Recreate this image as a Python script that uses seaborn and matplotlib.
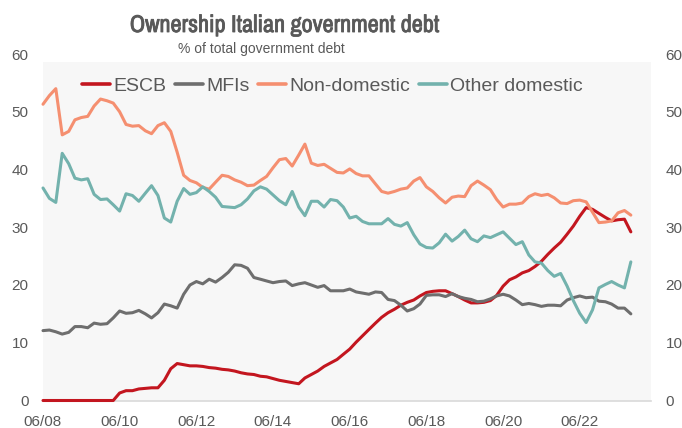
import numpy as np
import pandas as pd
import matplotlib
matplotlib.use("Agg")
import matplotlib.pyplot as plt
import matplotlib.dates as mdates
import matplotlib.patheffects as pe
import seaborn as sns

# Bi-monthly observations, June 2008 - October 2023 (% of total government debt)
dates = pd.date_range("2008-06-01", periods=93, freq="2MS")
holders = ["ESCB", "MFIs", "Non-domestic", "Other domestic"]

escb = [0, 0, 0, 0, 0, 0, 0, 0, 0, 0,
        0, 0, 1.3, 1.7, 1.7, 2.0, 2.1, 2.2, 2.2, 3.5,
        5.5, 6.4, 6.2, 6.0, 6.0, 5.9, 5.7, 5.6, 5.4, 5.3,
        5.1, 4.8, 4.6, 4.5, 4.2, 4.1, 3.8, 3.5, 3.3, 3.1,
        2.9, 3.9, 4.5, 5.1, 5.9, 6.5, 7.1, 8.0, 8.9, 10.1,
        11.2, 12.3, 13.4, 14.4, 15.2, 15.8, 16.5, 17.0, 17.4, 18.1,
        18.7, 18.9, 19.0, 19.0, 18.5, 18.0, 17.4, 16.9, 16.9, 17.0,
        17.3, 18.2, 19.8, 20.9, 21.4, 22.1, 22.5, 23.2, 24.1, 25.3,
        26.4, 27.4, 28.8, 30.2, 31.9, 33.4, 33.1, 32.4, 31.7, 31.1,
        31.3, 31.4, 29.2]

mfis = [12.1, 12.2, 11.9, 11.5, 11.8, 12.8, 12.8, 12.6, 13.4, 13.2,
        13.3, 14.3, 15.5, 15.1, 15.2, 15.6, 15.0, 14.3, 15.2, 16.7,
        16.4, 16.0, 18.4, 20.0, 20.6, 20.2, 21.0, 20.5, 21.3, 22.2,
        23.5, 23.4, 22.9, 21.3, 21.0, 20.7, 20.4, 20.6, 20.7, 19.9,
        20.2, 20.4, 20.0, 19.6, 19.9, 19.0, 19.0, 19.0, 19.3, 18.8,
        18.6, 18.4, 18.8, 18.7, 17.5, 17.3, 16.5, 15.5, 15.9, 16.7,
        18.2, 18.3, 18.3, 18.0, 18.5, 18.0, 17.7, 17.5, 17.1, 17.2,
        17.6, 18.1, 18.4, 18.1, 17.4, 16.6, 16.8, 16.6, 16.3, 16.5,
        16.5, 16.4, 17.4, 17.8, 18.1, 17.8, 17.9, 17.2, 17.1, 16.7,
        16.0, 16.0, 15.0]

non_domestic = [51.3, 52.8, 54.0, 46.0, 46.6, 48.6, 49.0, 49.2, 51.0, 52.2,
                51.9, 51.5, 50.0, 47.8, 47.5, 47.6, 46.7, 46.2, 47.6, 48.1,
                46.6, 43.0, 39.0, 38.1, 37.7, 36.9, 36.6, 37.8, 39.0, 38.8,
                38.2, 37.8, 37.2, 37.3, 38.1, 38.8, 40.3, 41.7, 41.9, 40.6,
                42.5, 44.4, 41.1, 40.7, 40.9, 40.2, 39.5, 39.4, 40.1, 39.3,
                38.9, 38.9, 37.5, 36.2, 35.9, 36.2, 36.6, 36.8, 38.0, 38.6,
                37.0, 36.2, 35.1, 34.2, 35.2, 35.4, 35.3, 37.2, 38.0, 37.3,
                36.5, 34.8, 33.5, 34.0, 34.0, 34.2, 35.3, 35.8, 35.5, 35.7,
                35.1, 34.2, 34.1, 34.6, 34.7, 34.4, 32.6, 30.8, 30.9, 31.1,
                32.5, 32.9, 32.1]

other_domestic = [36.8, 35.0, 34.3, 42.8, 41.0, 38.5, 38.2, 38.4, 35.7, 34.8,
                  34.9, 33.9, 32.8, 35.8, 35.5, 34.5, 35.9, 37.2, 35.5, 31.6,
                  30.9, 34.5, 36.7, 35.7, 36.0, 37.0, 36.2, 35.2, 33.6, 33.5,
                  33.4, 33.9, 34.9, 36.3, 37.0, 36.6, 35.6, 34.6, 33.9, 36.2,
                  33.5, 32.0, 34.5, 34.5, 33.5, 34.8, 34.6, 33.5, 31.6, 31.9,
                  31.0, 30.6, 30.6, 30.6, 31.5, 30.5, 30.2, 30.8, 28.7, 27.1,
                  26.5, 26.4, 27.3, 28.8, 27.6, 28.4, 29.5, 28.0, 27.5, 28.5,
                  28.2, 28.7, 29.2, 28.1, 27.0, 27.5, 25.2, 24.0, 23.8, 22.5,
                  21.5, 22.0, 19.8, 17.3, 15.1, 13.5, 15.7, 19.5, 20.1, 20.6,
                  20.0, 19.5, 24.0]

y_ticks = [0, 10, 20, 30, 40, 50, 60]
x_tick_dates = pd.to_datetime([f"20{yy:02d}-06-01" for yy in range(8, 23, 2)])

palette = {"ESCB": "#C3161F", "MFIs": "#6E6E6E",
           "Non-domestic": "#F58F70", "Other domestic": "#73B2AD"}
text_color = "#595959"

sns.set_theme(style="white")
plt.rcParams["font.family"] = ["Liberation Sans", "DejaVu Sans"]

df = pd.DataFrame({
    "date": np.tile(dates.values, len(holders)),
    "share": np.concatenate([escb, mfis, non_domestic, other_domestic]),
    "holder": np.repeat(holders, len(dates)),
})

W, H = 682, 428
fig = plt.figure(figsize=(W / 100, H / 100), dpi=100)
ax = fig.add_axes([43 / W, 1 - 400.5 / H, (651 - 43) / W, (400.5 - 54) / H])
ax.set_facecolor("white")
ax.axhspan(0, 58.6, color="#F7F7F7", lw=0, zorder=0)

sns.lineplot(data=df, x="date", y="share", hue="holder", hue_order=holders,
             palette=palette, linewidth=2.2, errorbar=None, ax=ax,
             clip_on=False, zorder=3)

ax.set_xlim(pd.Timestamp("2008-06-01"), pd.Timestamp("2024-04-10"))
ax.set_ylim(0, 60)
ax.set_yticks(y_ticks)
ax.set_xticks(x_tick_dates)
ax.xaxis.set_major_formatter(mdates.DateFormatter("%m/%y"))
ax.set_xlabel("")
ax.set_ylabel("")
for side in ("top", "left", "right"):
    ax.spines[side].set_visible(False)
ax.spines["bottom"].set_color("#D9D9D9")
ax.spines["bottom"].set_linewidth(1.2)
ax.spines["bottom"].set_zorder(1)
ax.tick_params(axis="both", length=0, labelsize=11, labelcolor=text_color, pad=10.5)

ax2 = ax.twinx()
ax2.set_ylim(0, 60)
ax2.set_yticks(y_ticks)
for side in ("top", "left", "right", "bottom"):
    ax2.spines[side].set_visible(False)
ax2.tick_params(axis="y", length=0, labelsize=11, labelcolor=text_color, pad=10.5)
ax2.grid(False)
ax.grid(False)

sns.move_legend(ax, "center left", bbox_to_anchor=(82 / W, 1 - 86.5 / H),
                bbox_transform=fig.transFigure, ncol=4, frameon=False, title="",
                fontsize=14, handlelength=1.45, handletextpad=0.15,
                columnspacing=0.45, borderpad=0, borderaxespad=0,
                labelcolor=text_color)
for line in ax.get_legend().get_lines():
    line.set_linewidth(2.6)

# Condensed heavy title: narrow face thickened with a matching stroke
fig.text(285 / W, 1 - 32 / H, "Ownership Italian government debt", ha="center",
         va="baseline", fontsize=17.4, fontweight="bold", color=text_color,
         family=["Archivo Narrow", "Liberation Sans", "DejaVu Sans"],
         path_effects=[pe.withStroke(linewidth=0.6, foreground=text_color)])
fig.text(261 / W, 1 - 53 / H, "% of total government debt", ha="center",
         va="baseline", fontsize=10, color=text_color)

fig.savefig("out.png", dpi=100)
